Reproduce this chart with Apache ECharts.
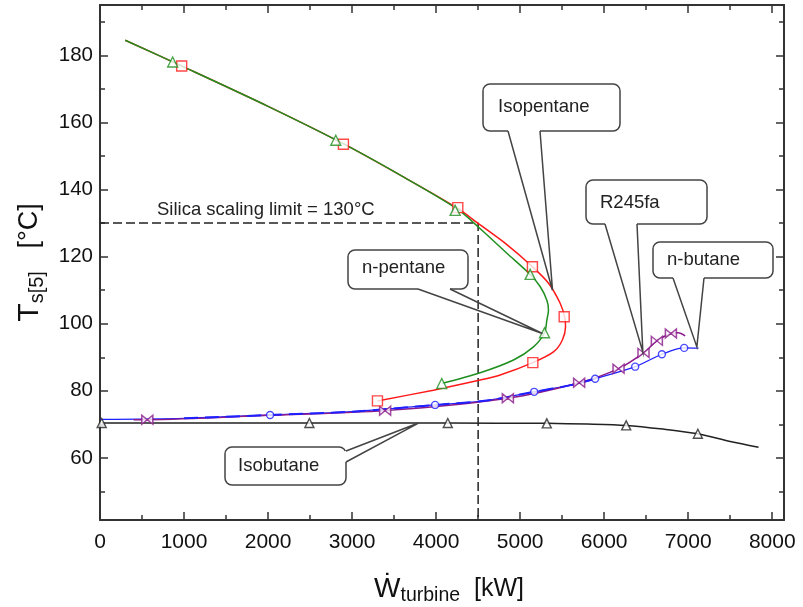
<!DOCTYPE html>
<html>
<head>
<meta charset="utf-8">
<script src="https://cdn.jsdelivr.net/npm/echarts@6.0.0/dist/echarts.min.js"></script>
<style>
html, body { margin: 0; padding: 0; background: #fff; }
#main { width: 803px; height: 607px; }
</style>
</head>
<body>
<div id="main"></div>
<script>
// axis ranges and ticks
var xMin = 0, xMax = 8140;
var yMin = 41.5, yMax = 195;
var xMajor = [0, 1000, 2000, 3000, 4000, 5000, 6000, 7000, 8000];
var xMinor = [500, 1500, 2500, 3500, 4500, 5500, 6500, 7500];
var yMajor = [60, 80, 100, 120, 140, 160, 180];
var yMinor = [50, 70, 90, 110, 130, 150, 170, 190];

// curves [W turbine kW, Ts5 °C]
var isopentaneCurve = [[300,184.5],[1000,176.5],[2000,164.8],[2900,153.6],[3650,143.2],[4250,134.5],[4484,130.2],[4842,123.6],[5146,117.0],[5340,112.0],[5476,106.1],[5530,102.0],[5540,99.0],[5500,95.0],[5397,91.6],[5151,88.4],[4762,84.7],[4524,83.2],[3968,80.2],[3302,77.0]];
var isopentaneMarks = [[972,176.8],[2897,153.5],[4258,134.6],[5146,117.0],[5524,102.1],[5151,88.4],[3302,77.0]];

var npentaneCurve = [[300,184.5],[1000,176.5],[2000,164.8],[2900,153.6],[3650,143.2],[4250,134.2],[4512,128.6],[4842,121.0],[5119,114.7],[5238,111.1],[5318,107.0],[5337,104.1],[5318,101.1],[5290,97.3],[5159,93.1],[4921,89.2],[4524,85.4],[4067,82.2]];
var npentaneMarks = [[865,178.0],[2806,154.7],[4226,133.8],[5119,114.7],[5290,97.3],[4067,82.2]];

var nbutaneCurve = [[0,71.5],[1000,71.8],[2024,72.8],[3000,73.8],[3988,75.8],[4600,77.1],[5167,79.7],[5600,81.7],[5893,83.6],[6369,87.2],[6687,90.9],[6952,92.8],[7123,92.7]];
var nbutaneMarks = [[2024,72.8],[3988,75.8],[5167,79.7],[5893,83.6],[6369,87.2],[6687,90.9],[6952,92.8]];

var r245faCurve = [[400,71.4],[563,71.4],[2000,72.7],[3393,74.1],[4854,77.8],[5702,82.4],[6171,86.6],[6468,91.3],[6627,94.9],[6794,97.1],[6880,97.3],[6964,96.4]];
var r245faMarks = [[563,71.4],[3393,74.1],[4854,77.8],[5702,82.4],[6171,86.6],[6468,91.3],[6627,94.9],[6794,97.1]];

var isobutaneCurve = [[20,70.4],[1000,70.4],[2492,70.4],[4139,70.4],[5317,70.3],[5800,70.1],[6262,69.7],[6700,68.6],[7115,67.2],[7500,64.9],[7837,63.2]];
var isobutaneMarks = [[20,70.4],[2492,70.4],[4139,70.4],[5317,70.3],[6262,69.7],[7115,67.2]];

var limitLine = [[0,130],[4500,130],[4500,yMin]];
var limitText = 'Silica scaling limit = 130°C';

var calloutNames = ['Isopentane', 'n-pentane', 'R245fa', 'n-butane', 'Isobutane'];
var calloutTips = [[5385,110.0],[5265,97.1],[6460,91.6],[7103,93.1],[3790,70.4]];

var sans = "'Liberation Sans', Arial, sans-serif";
var ink = '#333';

function plain(v) { return String(v); }

function xAx(pos, ticks, len, main) {
    return {
        type: 'value', position: pos, min: xMin, max: xMax,
        axisLine: {show: main, onZero: false, lineStyle: {color: ink, width: 2}},
        axisTick: {show: true, inside: true, length: len, customValues: ticks, lineStyle: {color: ink, width: 1.5}},
        axisLabel: {show: main && pos === 'bottom', customValues: ticks, formatter: plain, margin: 12, fontSize: 21, fontFamily: sans, color: '#111'},
        splitLine: {show: false}
    };
}
function yAx(pos, ticks, len, main) {
    return {
        type: 'value', position: pos, min: yMin, max: yMax,
        axisLine: {show: main, onZero: false, lineStyle: {color: ink, width: 2}},
        axisTick: {show: true, inside: true, length: len, customValues: ticks, lineStyle: {color: ink, width: 1.5}},
        axisLabel: {show: main && pos === 'left', customValues: ticks, formatter: plain, margin: 7, fontSize: 20.5, fontFamily: sans, color: '#111'},
        splitLine: {show: false}
    };
}

var xAxes = [xAx('bottom', xMajor, 8, true), xAx('bottom', xMinor, 5, false), xAx('top', xMajor, 8, true), xAx('top', xMinor, 5, false)];
var yAxes = [yAx('left', yMajor, 8, true), yAx('left', yMinor, 5, false), yAx('right', yMajor, 8, true), yAx('right', yMinor, 5, false)];

xAxes[0].name = '{w|Ẇ}{s|turbine}{u|  [kW]}';
xAxes[0].nameLocation = 'middle';
xAxes[0].nameGap = 52;
xAxes[0].nameTextStyle = {padding: [0, 0, 0, 14], rich: {
    w: {fontSize: 28, fontFamily: sans, color: '#111'},
    s: {fontSize: 19.5, fontFamily: sans, color: '#111', padding: [14, 0, 0, 0]},
    u: {fontSize: 25, fontFamily: sans, color: '#111'}
}};
yAxes[0].name = '{t|T}{s|s[5]}{u|   [°C]}';
yAxes[0].nameLocation = 'middle';
yAxes[0].nameGap = 53;
yAxes[0].nameTextStyle = {rich: {
    t: {fontSize: 30, fontFamily: sans, color: '#111'},
    s: {fontSize: 20, fontFamily: sans, color: '#111', padding: [15, 0, 0, 0]},
    u: {fontSize: 27, fontFamily: sans, color: '#111'}
}};

function curve(data, color, z, extra) {
    var s = {type: 'line', data: data, smooth: 0.3, showSymbol: false, symbol: 'none',
        lineStyle: {color: color, width: 1.5}, z: z, silent: true};
    for (var k in extra) s[k] = extra[k];
    return s;
}
function marks(data, color, symbol, size) {
    return {type: 'scatter', data: data, symbol: symbol, symbolSize: size, z: 8, silent: true,
        itemStyle: {color: '#fff', borderColor: color, borderWidth: 1.4}};
}

var bowtie = 'path://M0,0L10,5L0,10ZM20,0L10,5L20,10Z';
var red = '#ff1a1a', green = '#1f8f1f', blue = '#1f1fff', purple = '#8a1a8a';

var option = {
    animation: false,
    backgroundColor: '#fff',
    grid: {left: 100, right: 19, top: 5, bottom: 87, containLabel: false, outerBoundsMode: 'none'},
    xAxis: xAxes,
    yAxis: yAxes,
    series: [
        curve(limitLine, '#222', 3, {smooth: false, lineStyle: {color: '#222', width: 1.5, type: [9, 4]}}),
        curve(isobutaneCurve, '#222', 4),
        curve(nbutaneCurve, blue, 4, {lineStyle: {color: blue, width: 1.3}}),
        curve(r245faCurve, purple, 5),
        curve(nbutaneCurve.filter(function (p) { return p[0] >= 500 && p[0] <= 5893; }), blue, 6,
            {lineStyle: {color: blue, width: 2, type: [14, 7]}}),
        curve(isopentaneCurve, red, 5),
        curve(npentaneCurve, green, 6),
        marks(isobutaneMarks, '#222', 'triangle', 9),
        marks(r245faMarks, purple, bowtie, [11, 9]),
        marks(nbutaneMarks, blue, 'circle', 7),
        marks(isopentaneMarks, red, 'rect', 10),
        marks(npentaneMarks, green, 'triangle', 10)
    ]
};

var chart = echarts.init(document.getElementById('main'));
chart.setOption(option);

// callout boxes (layout in pixels), tips follow the data
var boxes = [
    {x: 483, y: 84, w: 137, h: 47, b1: [508, 131], b2: [540, 131], tx: 498, ty: 107},
    {x: 348, y: 250, w: 120, h: 39, b1: [418, 289], b2: [450, 289], tx: 362, ty: 268},
    {x: 586, y: 180, w: 121, h: 44, b1: [605, 224], b2: [637, 224], tx: 600, ty: 203},
    {x: 653, y: 242, w: 120, h: 36, b1: [673, 278], b2: [704, 278], tx: 667, ty: 260},
    {x: 225, y: 447, w: 121, h: 38, b1: [346, 451], b2: [346, 462], tx: 238, ty: 466}
];
var elements = [];
boxes.forEach(function (b, i) {
    var tip = chart.convertToPixel({xAxisIndex: 0, yAxisIndex: 0}, calloutTips[i]);
    elements.push({type: 'rect', z: 10, shape: {x: b.x, y: b.y, width: b.w, height: b.h, r: 7},
        style: {fill: '#fff', stroke: '#444', lineWidth: 1.5}});
    elements.push({type: 'line', z: 11, shape: {x1: b.b1[0], y1: b.b1[1], x2: b.b2[0], y2: b.b2[1]},
        style: {stroke: '#fff', lineWidth: 3}});
    elements.push({type: 'polyline', z: 12, shape: {points: [b.b1, tip, b.b2]},
        style: {fill: null, stroke: '#444', lineWidth: 1.5}});
    elements.push({type: 'text', z: 13, x: b.tx, y: b.ty,
        style: {text: calloutNames[i], fontSize: 18.5, fontFamily: sans, fill: '#222', verticalAlign: 'middle'}});
});
elements.push({type: 'text', z: 13, x: 157, y: 210,
    style: {text: limitText, fontSize: 18.5, fontFamily: sans, fill: '#222', verticalAlign: 'middle'}});
chart.setOption({graphic: {elements: elements}});
</script>
</body>
</html>
